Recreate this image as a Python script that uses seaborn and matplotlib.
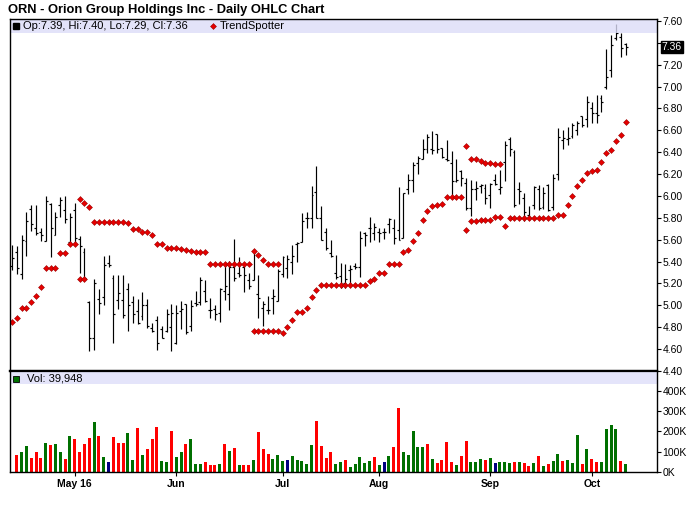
import numpy as np
import pandas as pd
import matplotlib
matplotlib.use('Agg')
import matplotlib.pyplot as plt
import matplotlib.transforms as mtransforms
from matplotlib.patches import Rectangle
import seaborn as sns

# trading days Apr 13 - Oct 12, 2016
holidays = pd.to_datetime(['2016-05-30', '2016-07-04', '2016-09-05'])
dates = pd.bdate_range('2016-04-13', '2016-10-12')
dates = dates[~dates.isin(holidays)]

opens = [5.36, 5.49, 5.29, 5.59, 5.88, 5.71, 5.67, 5.59, 5.93, 5.64,
         5.92, 5.87, 5.58, 5.87, 5.61, 5.49, 5.03, 4.70, 5.06, 5.08,
         5.39, 5.25, 5.05, 5.05, 5.15, 5.03, 4.95, 4.90, 5.00, 4.79,
         4.87, 4.78, 4.77, 4.80, 4.66, 4.95, 5.01, 4.81, 5.02, 5.03,
         5.13, 4.96, 4.97, 4.93, 5.13, 5.10, 5.35, 5.30, 5.35, 5.23,
         5.23, 5.10, 4.98, 4.96, 5.07, 5.04, 5.29, 5.34, 5.40, 5.56,
         5.58, 5.80, 5.80, 6.04, 5.80, 5.67, 5.48, 5.30, 5.27, 5.20,
         5.32, 5.36, 5.35, 5.66, 5.71, 5.66, 5.67, 5.67, 5.74, 5.71,
         5.69, 5.62, 6.06, 6.15, 6.30, 6.34, 6.43, 6.43, 6.57, 6.44,
         6.34, 6.30, 6.14, 6.23, 6.12, 5.89, 6.06, 6.09, 6.07, 6.01,
         6.15, 6.06, 6.31, 6.52, 6.40, 6.06, 5.98, 5.83, 5.92, 6.06,
         5.90, 6.10, 5.90, 6.20, 6.51, 6.52, 6.55, 6.60, 6.73, 6.70,
         6.80, 6.76, 6.90, 7.00, 7.15, 7.44, 7.45, 7.39]
highs = [5.55, 5.54, 5.64, 5.85, 5.92, 5.92, 5.71, 6.00, 5.94, 5.85,
         5.99, 6.00, 5.84, 5.94, 5.63, 5.52, 5.04, 5.24, 5.15, 5.45,
         5.46, 5.28, 5.28, 5.28, 5.20, 5.09, 5.06, 5.12, 5.06, 4.84,
         4.90, 4.81, 4.97, 5.01, 5.00, 5.04, 5.01, 5.05, 5.13, 5.26,
         5.23, 5.07, 5.00, 5.16, 5.38, 5.41, 5.61, 5.44, 5.38, 5.30,
         5.51, 5.28, 5.04, 5.09, 5.15, 5.33, 5.45, 5.46, 5.55, 5.58,
         5.84, 5.85, 6.09, 6.27, 5.91, 5.71, 5.60, 5.46, 5.39, 5.38,
         5.37, 5.39, 5.68, 5.67, 5.81, 5.75, 5.71, 5.71, 5.80, 5.79,
         6.08, 6.03, 6.20, 6.31, 6.37, 6.52, 6.57, 6.59, 6.57, 6.44,
         6.51, 6.41, 6.34, 6.24, 6.16, 6.15, 6.14, 6.11, 6.11, 6.12,
         6.20, 6.24, 6.50, 6.54, 6.42, 6.13, 6.03, 5.91, 6.09, 6.10,
         6.08, 6.11, 6.20, 6.62, 6.60, 6.63, 6.67, 6.69, 6.73, 6.91,
         6.86, 6.92, 6.92, 7.34, 7.47, 7.57, 7.49, 7.40]
lows = [5.32, 5.29, 5.24, 5.45, 5.68, 5.64, 5.59, 5.59, 5.44, 5.64,
        5.81, 5.75, 5.57, 5.56, 5.30, 5.24, 4.58, 4.59, 4.92, 5.00,
        5.35, 4.66, 4.97, 4.88, 4.77, 4.84, 4.83, 4.87, 4.79, 4.76,
        4.59, 4.70, 4.76, 4.58, 4.65, 4.78, 4.74, 4.77, 4.99, 5.00,
        5.03, 4.88, 4.87, 4.85, 5.05, 4.96, 5.22, 5.26, 5.12, 5.15,
        5.23, 4.88, 4.81, 4.92, 4.92, 5.04, 5.26, 5.25, 5.29, 5.40,
        5.58, 5.71, 5.71, 5.80, 5.60, 5.51, 5.44, 5.24, 5.16, 5.16,
        5.19, 5.33, 5.26, 5.54, 5.58, 5.60, 5.58, 5.61, 5.66, 5.56,
        5.60, 5.62, 6.02, 6.04, 6.20, 6.34, 6.39, 6.38, 6.39, 6.35,
        6.32, 6.00, 6.13, 6.09, 5.87, 5.82, 5.96, 6.03, 5.93, 5.89,
        6.10, 6.02, 6.14, 6.37, 5.90, 5.93, 5.77, 5.78, 5.88, 5.87,
        5.88, 5.86, 5.87, 6.15, 6.43, 6.47, 6.53, 6.56, 6.63, 6.63,
        6.67, 6.67, 6.77, 6.98, 7.09, 7.43, 7.27, 7.29]
closes = [5.43, 5.34, 5.60, 5.77, 5.74, 5.66, 5.64, 5.95, 5.71, 5.81,
          5.96, 5.79, 5.81, 5.62, 5.54, 5.25, 4.70, 5.20, 5.02, 5.37,
          5.37, 4.92, 5.11, 4.91, 5.00, 4.92, 4.84, 5.00, 4.81, 4.77,
          4.66, 4.70, 4.92, 4.93, 4.93, 4.97, 4.76, 4.99, 5.01, 5.23,
          5.04, 4.96, 4.92, 5.15, 5.18, 5.35, 5.25, 5.28, 5.28, 5.18,
          5.49, 5.07, 5.01, 4.96, 5.09, 5.31, 5.44, 5.42, 5.45, 5.57,
          5.77, 5.80, 6.01, 5.80, 5.60, 5.52, 5.45, 5.26, 5.17, 5.24,
          5.33, 5.35, 5.62, 5.64, 5.71, 5.72, 5.66, 5.67, 5.79, 5.62,
          5.60, 6.03, 6.15, 6.28, 6.35, 6.43, 6.54, 6.42, 6.43, 6.36,
          6.33, 6.14, 6.15, 6.16, 5.89, 6.06, 6.07, 6.10, 5.98, 6.11,
          6.11, 6.08, 6.47, 6.43, 5.92, 6.05, 5.85, 5.80, 6.08, 5.89,
          6.03, 5.87, 6.16, 6.54, 6.53, 6.53, 6.65, 6.67, 6.65, 6.86,
          6.76, 6.74, 6.86, 7.09, 7.38, 7.49, 7.35, 7.36]

# volume in thousands of shares (first day has no bar)
volume = [None, 86, 96, 126, 71, 96, 71, 145, 131, 140,
          96, 66, 175, 160, 96, 136, 165, 245, 175, 76,
          51, 170, 145, 145, 190, 61, 215, 86, 111, 160,
          220, 56, 51, 200, 76, 96, 136, 160, 41, 41,
          51, 36, 33, 41, 140, 101, 116, 36, 36, 33,
          61, 195, 111, 91, 66, 86, 56, 61, 81, 61,
          56, 41, 131, 250, 126, 71, 96, 41, 51, 61,
          26, 41, 76, 46, 56, 76, 36, 51, 81, 121,
          314, 96, 86, 200, 121, 121, 140, 66, 46, 61,
          150, 51, 36, 81, 155, 51, 51, 66, 61, 71,
          46, 51, 51, 46, 51, 51, 46, 31, 46, 81,
          31, 41, 56, 91, 56, 61, 46, 180, 41, 111,
          66, 51, 51, 210, 230, 210, 56, 39.948]
# u = up, d = down, n = unchanged
vol_dir = ("-duudddudu" "ududdddudu" "nddduududd" "duuduuduuu"
           "dddudududd" "uddduuunuu" "uuudddduud" "uuuuudunud"
           "duuuuududd" "ddudduuudu" "nuuududdud" "uduuduuudu"
           "dduuuudu")

N = None
ts_long = [4.85, 4.88, 4.98, 4.98, 5.03, 5.09, 5.17, 5.34, 5.34, 5.34,
           5.48, 5.48, 5.56, 5.56, 5.24, 5.24, N, N, N, N,
           N, N, N, N, N, N, N, N, N, N,
           N, N, N, N, N, N, N, N, N, N,
           N, N, N, N, N, N, N, N, N, N,
           4.77, 4.77, 4.77, 4.77, 4.77, 4.77, 4.75, 4.80, 4.87, 4.94,
           4.94, 4.98, 5.08, 5.14, 5.19, 5.19, 5.19, 5.19, 5.19, 5.19,
           5.19, 5.19, 5.19, 5.19, 5.22, 5.24, 5.30, 5.30, 5.38, 5.38,
           5.38, 5.49, 5.51, 5.59, 5.66, 5.78, 5.86, 5.91, 5.92, 5.93,
           5.99, 5.99, 5.99, 5.99, 5.69, 5.77, 5.77, 5.78, 5.78, 5.78,
           5.81, 5.81, 5.73, 5.80, 5.80, 5.80, 5.80, 5.80, 5.80, 5.80,
           5.80, 5.80, 5.80, 5.83, 5.83, 5.92, 6.00, 6.09, 6.15, 6.21,
           6.23, 6.24, 6.31, 6.39, 6.42, 6.50, 6.56, 6.68]
ts_short = [N, N, N, N, N, N, N, N, N, N,
            N, N, N, N, 5.97, 5.94, 5.90, 5.76, 5.76, 5.76,
            5.76, 5.76, 5.76, 5.76, 5.75, 5.70, 5.70, 5.67, 5.67, 5.64,
            5.56, 5.56, 5.52, 5.52, 5.52, 5.515, 5.51, 5.50, 5.485, 5.485,
            5.485, 5.375, 5.375, 5.375, 5.375, 5.375, 5.375, 5.375, 5.375, 5.375,
            5.50, 5.46, 5.415, 5.375, 5.375, 5.375, N, N, N, N,
            N, N, N, N, N, N, N, N, N, N,
            N, N, N, N, N, N, N, N, N, N,
            N, N, N, N, N, N, N, N, N, N,
            N, N, N, N, 6.46, 6.335, 6.335, 6.32, 6.30, 6.30,
            6.29, 6.29, N, N, N, N, N, N, N, N,
            N, N, N, N, N, N, N, N, N, N,
            N, N, N, N, N, N, N, N]

month_labels = ['May 16', 'Jun', 'Jul', 'Aug', 'Sep', 'Oct']
price_ticks = [4.40, 4.60, 4.80, 5.00, 5.20, 5.40, 5.60, 5.80, 6.00,
               6.20, 6.40, 6.60, 6.80, 7.00, 7.20, 7.40, 7.60]
vol_ticks = [0, 100, 200, 300, 400]

sns.set_style('white', {'axes.edgecolor': 'black', 'xtick.color': 'black',
                        'ytick.color': 'black', 'text.color': 'black'})
plt.rcParams['font.family'] = ['Liberation Sans', 'DejaVu Sans']

n = len(dates)
x = np.arange(n)
o = np.array(opens); h = np.array(highs); l = np.array(lows); c = np.array(closes)

fig = plt.figure(figsize=(7, 5.12), dpi=100)
ax = fig.add_axes([10/700, 1 - 371/512, 647/700, 352/512])
axv = fig.add_axes([10/700, 1 - 472/512, 647/700, 101/512])

# OHLC bars
ax.vlines(x, l, h, color='black', lw=0.85, zorder=2)
ax.hlines(o, x - 0.4, x, color='black', lw=0.85, zorder=2)
ax.hlines(c, x, x + 0.4, color='black', lw=0.85, zorder=2)

# TrendSpotter dots
ts = pd.DataFrame({'i': x,
                   'long': pd.to_numeric(pd.Series(ts_long), errors='coerce'),
                   'short': pd.to_numeric(pd.Series(ts_short), errors='coerce')})
ts = ts.melt('i', value_name='stop').dropna()
sns.scatterplot(data=ts, x='i', y='stop', ax=ax, marker='D', s=9,
                color='#e60000', edgecolor='#990000', linewidth=0.4,
                legend=False, zorder=3)

ax.set_xlim(-0.41, 133.5)
ax.set_ylim(4.40, 7.618)
ax.set_xticks([])
ax.set_xlabel('')
ax.set_ylabel('')
ax.set_yticks(price_ticks)
ax.set_yticklabels(['' if abs(v - 7.40) < 1e-6 else f'{v:.2f}' for v in price_ticks])
ax.tick_params(axis='y', left=False, right=True, labelleft=False, labelright=True,
               direction='out', length=3, width=0.8, labelsize=7.5, pad=1)

# header band of the price panel
ax.add_patch(Rectangle((0, 1 - 14/352), 1, 14/352, transform=ax.transAxes,
                       facecolor='#dcdcf8', alpha=0.8, lw=0, zorder=4))
ax.plot([0.009], [0.979], marker='s', ms=4, color='black',
        transform=ax.transAxes, zorder=6, clip_on=False)
ax.text(0.0195, 0.979, f'Op:{o[-1]:.2f}, Hi:{h[-1]:.2f}, Lo:{l[-1]:.2f}, Cl:{c[-1]:.2f}',
        transform=ax.transAxes, fontsize=8, va='center', ha='left', zorder=6)
ax.plot([0.3137], [0.979], marker='D', ms=3, color='#e60000', mec='#990000', mew=0.4,
        transform=ax.transAxes, zorder=6)
ax.text(0.3246, 0.979, 'TrendSpotter', transform=ax.transAxes, fontsize=8,
        va='center', ha='left', zorder=6)

# last close box on the price scale
trans = mtransforms.blended_transform_factory(ax.transAxes, ax.transData)
ax.text(1.0075, c[-1], f'{c[-1]:.2f}', transform=trans, fontsize=7.5, color='white',
        va='center', ha='left', zorder=7,
        bbox=dict(boxstyle='square,pad=0.12', fc='black', ec='black'))

# volume panel
vol = pd.DataFrame({'i': x, 'vol': pd.to_numeric(pd.Series(volume), errors='coerce') * 1000,
                    'dir': list(vol_dir)})
vol = vol[vol['dir'] != '-']
sns.barplot(data=vol, x='i', y='vol', hue='dir', ax=axv, native_scale=True,
            palette={'u': '#007000', 'd': '#ff0000', 'n': '#000080'},
            dodge=False, width=0.62, saturation=1, errorbar=None, legend=False,
            linewidth=0)
axv.set_xlim(-0.41, 133.5)
axv.set_ylim(0, 497000)
axv.set_xlabel('')
axv.set_ylabel('')
axv.set_yticks([v * 1000 for v in vol_ticks])
axv.set_yticklabels([f'{v}K' for v in vol_ticks])
axv.tick_params(axis='y', left=False, right=True, labelleft=False, labelright=True,
                direction='out', length=3, width=0.8, labelsize=7.5, pad=1)

month_pos = [int(np.argmax(dates.month == m)) for m in [5, 6, 7, 8, 9, 10]]
axv.set_xticks(month_pos)
axv.set_xticklabels(month_labels, fontweight='bold')
axv.tick_params(axis='x', bottom=True, direction='out', length=3, width=0.8,
                labelsize=7.5, pad=2)

axv.add_patch(Rectangle((0, 1 - 13/101), 1, 12/101, transform=axv.transAxes,
                        facecolor='#e4e4fa', lw=0, zorder=4))
axv.plot([0.009], [0.921], marker='s', ms=4, color='#007000', mec='black', mew=0.6,
         transform=axv.transAxes, zorder=6)
axv.text(0.026, 0.921, f'Vol: {volume[-1] * 1000:,.0f}', transform=axv.transAxes,
         fontsize=8, va='center', ha='left', zorder=6)

for a in (ax, axv):
    for s in a.spines.values():
        s.set_color('black')
        s.set_linewidth(1.0)
        s.set_zorder(8)
ax.spines['bottom'].set_linewidth(1.6)
axv.spines['top'].set_linewidth(1.6)

fig.text(8/700, 1 - 10/512, 'ORN - Orion Group Holdings Inc - Daily OHLC Chart',
         fontsize=9.3, fontweight='bold', va='center', ha='left')

fig.savefig('out.png', dpi=100, facecolor='white')
